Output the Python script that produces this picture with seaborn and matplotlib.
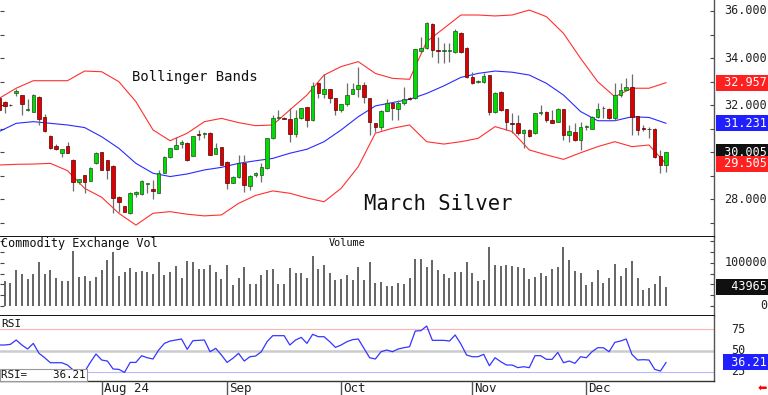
import numpy as np
import matplotlib
matplotlib.use('Agg')
import matplotlib.pyplot as plt
import matplotlib.transforms as mtransforms
import seaborn as sns

# daily bars (bar 0 sits half off the left edge)
opens = [32.32, 32.15, 32.00, 32.50, 32.43, 31.78, 31.73, 32.36, 31.48, 30.71,
         30.28, 29.96, 30.28, 29.67, 28.75, 29.02, 28.80, 29.53, 30.00, 29.67,
         29.43, 28.12, 27.72, 27.41, 28.22, 28.22, 28.64, 28.43, 28.29, 29.14,
         29.78, 30.14, 30.35, 30.41, 29.86, 30.78, 30.77, 30.83, 29.93, 30.21,
         29.60, 28.71, 28.94, 29.53, 28.58, 29.04, 29.04, 29.35, 30.59, 31.46,
         31.46, 31.40, 30.76, 31.44, 31.91, 31.37, 32.93, 32.48, 32.67, 32.29,
         31.80, 32.05, 32.48, 32.67, 32.86, 32.29, 31.23, 31.09, 31.77, 32.08,
         31.83, 32.08, 32.30, 32.29, 34.30, 34.41, 35.45, 34.33, 34.30, 34.30,
         34.27, 35.08, 34.41, 33.21, 32.98, 33.00, 33.28, 31.73, 32.57, 31.83,
         31.22, 31.23, 30.81, 30.95, 30.81, 31.65, 31.72, 31.37, 31.30, 31.83,
         30.73, 30.88, 30.52, 31.06, 30.99, 31.51, 31.87, 31.83, 31.44, 32.43,
         32.65, 32.79, 31.54, 31.02, 30.99, 31.00, 29.84, 29.46]
highs = [32.36, 32.17, 32.03, 32.67, 32.45, 32.25, 32.46, 32.38, 31.63, 30.73,
         30.35, 30.16, 30.42, 29.70, 28.88, 29.05, 29.36, 30.00, 30.03, 29.69,
         29.45, 28.13, 27.74, 28.30, 28.34, 28.82, 28.71, 28.82, 29.25, 29.83,
         30.19, 30.66, 30.52, 30.43, 30.71, 30.95, 30.87, 30.85, 30.38, 30.23,
         29.62, 29.00, 29.88, 29.88, 29.02, 29.18, 29.53, 30.62, 31.60, 31.80,
         31.50, 31.87, 31.80, 31.90, 31.93, 33.00, 33.00, 33.32, 32.69, 32.31,
         32.07, 32.93, 32.93, 33.64, 33.00, 32.31, 31.25, 31.79, 32.25, 32.15,
         32.22, 32.76, 32.36, 34.40, 34.91, 35.55, 35.47, 34.91, 34.63, 34.63,
         35.22, 35.10, 34.45, 33.42, 33.05, 33.35, 33.30, 32.55, 32.60, 31.85,
         31.65, 31.58, 30.97, 30.97, 31.67, 32.00, 31.75, 31.80, 31.87, 31.85,
         31.15, 31.23, 31.30, 31.15, 31.55, 32.08, 31.97, 31.87, 32.93, 32.93,
         33.14, 33.32, 31.56, 31.17, 31.06, 31.02, 30.10, 30.01]
lows = [31.75, 31.68, 31.96, 32.40, 31.58, 31.76, 31.72, 31.16, 30.88, 30.15,
        30.10, 29.81, 29.96, 28.37, 28.64, 28.26, 28.78, 29.50, 29.23, 28.87,
        27.41, 27.48, 27.46, 27.40, 28.12, 28.20, 28.29, 28.00, 28.28, 29.12,
        29.76, 30.12, 30.17, 29.65, 29.84, 30.52, 30.62, 29.87, 29.91, 29.44,
        28.43, 28.69, 28.92, 28.33, 28.40, 28.96, 28.75, 29.30, 30.57, 31.37,
        31.40, 30.45, 30.66, 31.40, 31.09, 31.35, 32.29, 32.29, 32.08, 31.58,
        31.73, 31.95, 32.46, 32.36, 32.08, 30.73, 30.88, 30.95, 31.75, 31.37,
        31.37, 32.00, 32.22, 32.25, 34.20, 34.38, 34.06, 33.78, 33.78, 33.85,
        34.20, 34.20, 33.15, 32.91, 32.95, 32.93, 31.60, 31.65, 31.75, 30.95,
        30.80, 30.73, 30.17, 30.65, 30.79, 31.58, 31.30, 31.23, 31.28, 30.52,
        30.45, 30.50, 30.10, 30.95, 30.97, 31.44, 31.45, 31.40, 31.37, 32.36,
        32.63, 30.73, 30.73, 30.92, 30.59, 29.75, 29.11, 29.18]
closes = [31.80, 31.97, 31.99, 32.60, 32.05, 31.82, 32.43, 31.40, 30.90, 30.17,
          30.13, 30.14, 29.98, 28.75, 28.87, 28.75, 29.33, 29.98, 29.25, 29.25,
          28.04, 27.90, 27.48, 28.26, 28.30, 28.80, 28.68, 28.37, 29.11, 29.81,
          30.17, 30.31, 30.45, 29.67, 30.69, 30.74, 30.82, 29.89, 30.20, 29.46,
          28.71, 28.97, 29.53, 28.61, 29.00, 29.11, 29.39, 30.59, 31.44, 31.50,
          31.42, 30.76, 31.44, 31.87, 31.37, 32.82, 32.50, 32.67, 32.29, 31.80,
          32.05, 32.43, 32.67, 32.86, 32.33, 31.30, 31.09, 31.77, 32.11, 31.87,
          32.11, 32.25, 32.27, 34.37, 34.44, 35.50, 34.34, 34.29, 34.32, 34.33,
          35.16, 34.27, 33.21, 32.93, 33.02, 33.24, 31.73, 32.53, 31.80, 31.30,
          31.20, 30.81, 30.95, 30.69, 31.65, 31.69, 31.37, 31.26, 31.83, 30.73,
          30.90, 30.52, 31.09, 31.11, 31.51, 31.83, 31.90, 31.44, 32.43, 32.65,
          32.76, 31.51, 30.95, 30.99, 30.97, 29.79, 29.46, 30.005]
volume = [45000, 58500, 52400, 83200, 73900, 62400, 73200, 100900, 73900, 83200,
          65500, 58500, 58500, 127000, 66200, 68500, 58500, 66200, 83900, 106300,
          125500, 68500, 79300, 87000, 79300, 81600, 77800, 74700, 100900, 71600,
          79300, 93200, 65500, 103200, 102400, 85500, 85500, 95500, 77800, 62400,
          93900, 48500, 65500, 89300, 50000, 50000, 72400, 83900, 86200, 51600,
          50000, 87000, 77000, 75500, 63900, 116300, 86200, 95500, 75500, 59300,
          63100, 70800, 59300, 89300, 59300, 100900, 53900, 56200, 47000, 46200,
          53900, 51600, 63900, 108600, 108600, 90100, 105500, 83900, 73200, 65500,
          79300, 78500, 100900, 76200, 58500, 60100, 135500, 93900, 92400, 95500,
          93200, 90900, 87000, 62400, 66200, 77000, 69300, 86200, 90100, 135500,
          106300, 81600, 77000, 48500, 56200, 83900, 53100, 64700, 97800, 69300,
          88600, 104000, 65500, 36200, 42400, 50800, 69300, 43965]
rsi = [56.7, 56.7, 57.5, 62.6, 56.7, 52.0, 58.6, 46.9, 41.7, 35.8,
       35.8, 35.8, 33.1, 27.2, 24.4, 25.2, 36.2, 46.1, 39.0, 37.8,
       28.4, 28.0, 24.4, 36.2, 36.2, 44.1, 41.7, 40.2, 50.8, 58.6,
       61.4, 62.6, 63.8, 51.6, 61.8, 62.2, 62.6, 48.8, 52.8, 44.9,
       36.2, 41.0, 46.9, 37.8, 42.9, 43.7, 48.8, 60.6, 67.7, 67.7,
       67.7, 56.7, 62.6, 65.7, 58.6, 69.3, 66.5, 66.5, 60.6, 53.9,
       56.7, 60.6, 63.0, 63.8, 52.8, 41.7, 40.2, 48.8, 50.8, 48.8,
       52.0, 53.5, 54.7, 73.2, 73.6, 79.1, 62.2, 62.2, 62.2, 61.4,
       68.5, 57.9, 44.9, 42.9, 42.9, 45.7, 32.3, 41.7, 37.0, 33.1,
       33.1, 30.0, 31.1, 30.0, 44.1, 44.1, 39.8, 39.8, 48.0, 35.8,
       37.8, 35.1, 42.9, 41.7, 48.8, 53.5, 53.5, 48.8, 59.8, 61.4,
       63.8, 45.7, 39.0, 39.4, 39.0, 28.0, 26.0, 36.21]

# bollinger bands read every 3rd bar
band_x = list(range(0, 118, 3))
bb_upper = [32.29, 32.72, 33.04, 33.04, 33.04, 33.45, 33.42, 33.00, 32.15, 30.95,
            30.49, 30.81, 31.30, 31.44, 31.26, 31.13, 31.16, 31.80, 32.43, 33.28,
            33.64, 33.85, 33.35, 33.14, 33.10, 34.70, 35.26, 35.83, 35.83, 35.79,
            35.83, 36.04, 35.76, 35.05, 33.99, 33.00, 32.36, 32.72, 32.72, 32.957]
bb_mid = [30.88, 31.23, 31.30, 31.23, 31.16, 31.05, 30.66, 30.17, 29.53, 29.11,
          28.97, 29.08, 29.25, 29.36, 29.53, 29.64, 29.74, 29.96, 30.13, 30.45,
          30.95, 31.51, 31.97, 32.11, 32.25, 32.50, 32.82, 33.18, 33.35, 33.45,
          33.40, 33.28, 32.93, 32.43, 31.73, 31.34, 31.34, 31.51, 31.48, 31.231]
bb_lower = [29.46, 29.49, 29.50, 29.53, 29.22, 28.47, 28.09, 27.41, 26.91, 27.41,
            27.48, 27.37, 27.30, 27.34, 27.83, 28.17, 28.36, 28.26, 28.06, 27.90,
            28.47, 29.39, 30.81, 31.02, 31.16, 30.45, 30.35, 30.45, 30.59, 31.09,
            30.88, 30.10, 29.89, 29.70, 29.98, 30.24, 30.45, 30.24, 30.31, 29.505]

month_pos = [18, 40, 60, 83, 103]
month_labels = ['Aug 24', 'Sep', 'Oct', 'Nov', 'Dec']
price_labels = [36, 34, 32, 28]   # 30.000 sits under the last-price box
vol_labels = [100000, 50000, 0]
rsi_labels = [75, 50, 25]

sns.set_theme(style='white')
plt.rcParams['font.family'] = ['DejaVu Sans Mono', 'DejaVu Sans']

W, H = 768, 395
fig = plt.figure(figsize=(W / 100, H / 100), dpi=100, facecolor='white')
AW = 714 / W


def panel(top, bottom):
    return fig.add_axes([0, 1 - bottom / H, AW, (bottom - top) / H])


ax_p = panel(0, 237)
ax_v = panel(237, 316)
ax_r = panel(316, 381)
ax_d = panel(381, 395)

x = np.arange(len(closes))
o = np.array(opens)
c = np.array(closes)
xlim = (0.16, 125.4)

# candles
ax_p.vlines(x, lows, highs, color='#6e6e6e', lw=0.9, zorder=2)
up = c >= o
body = np.maximum(np.abs(c - o), 0.03)
base = np.minimum(o, c)
ax_p.bar(x[up], body[up], bottom=base[up], width=0.62, color='#00dd00',
         edgecolor='#205020', linewidth=0.5, zorder=3)
ax_p.bar(x[~up], body[~up], bottom=base[~up], width=0.62, color='#dd0000',
         edgecolor='#550000', linewidth=0.5, zorder=3)

sns.lineplot(x=band_x, y=bb_upper, ax=ax_p, color='#ff3030', lw=0.8, zorder=1)
sns.lineplot(x=band_x, y=bb_lower, ax=ax_p, color='#ff3030', lw=0.8, zorder=1)
sns.lineplot(x=band_x, y=bb_mid, ax=ax_p, color='#2a2aff', lw=0.8, zorder=1)
ax_p.set_ylim(26.403, 36.467)
ax_p.set_yticks(range(27, 37))

# volume
ax_v.vlines(x, 0, volume, color='#3a3a3a', lw=1.1)
ax_v.set_ylim(-23095, 159353)
ax_v.set_yticks(range(0, 150001, 25000))

# rsi
ax_r.axhline(75, color='#ffb4b4', lw=0.8)
ax_r.axhline(50, color='#cccccc', lw=1.8)
ax_r.axhline(25, color='#b8b8ff', lw=0.8)
sns.lineplot(x=x, y=rsi, ax=ax_r, color='#3535ff', lw=0.9)
ax_r.set_ylim(14.27, 90.9)
ax_r.set_yticks([])

for ax in (ax_p, ax_v, ax_r, ax_d):
    ax.set_xlim(*xlim)
    ax.set_xticks([])
    ax.set_xlabel('')
    ax.set_ylabel('')
    ax.set_facecolor('white')
    for s in ('top', 'left'):
        ax.spines[s].set_visible(False)
    ax.spines['right'].set_color('#555555')
    ax.spines['right'].set_linewidth(1.0)
    ax.spines['bottom'].set_color('#111111')
    ax.spines['bottom'].set_linewidth(1.4)
    ax.tick_params(axis='y', which='both', left=True, right=True, direction='in',
                   length=3, width=0.8, color='#444444', labelleft=False, labelright=False)
ax_r.spines['bottom'].set_linewidth(1.0)
ax_r.spines['bottom'].set_color('#333333')

# date strip
ax_d.axis('off')
ax_d.set_ylim(0, 1)
ax_d.vlines(month_pos, 0, 1, color='#555555', lw=1.0)
for pos, lab in zip(month_pos, month_labels):
    ax_d.text(pos + 0.4, 0.45, lab, fontsize=9, color='#222222', va='center', ha='left')

# texts inside panels
ax_p.text(132 / 714, 1 - 77.5 / 237, 'Bollinger Bands', transform=ax_p.transAxes,
          fontsize=10, color='#111111', va='center', ha='left')
ax_p.text(364 / 714, 1 - 204.5 / 237, 'March Silver', transform=ax_p.transAxes,
          fontsize=14.8, color='#111111', va='center', ha='left')
ax_v.text(1 / 714, 1 - 7 / 79, 'Commodity Exchange Vol', transform=ax_v.transAxes,
          fontsize=8.5, color='#111111', va='center', ha='left')
ax_v.text(347 / 714, 1 - 6 / 79, 'Volume', transform=ax_v.transAxes,
          fontsize=7.4, color='#111111', va='center', ha='center')
ax_r.text(1 / 714, 1 - 8 / 65, 'RSI', transform=ax_r.transAxes,
          fontsize=8, color='#111111', va='center', ha='left')
ax_r.text(1 / 714, 1 - 59 / 65, 'RSI=    %.2f' % rsi[-1], transform=ax_r.transAxes,
          fontsize=7.8, color='#111111', va='center', ha='left', zorder=5,
          bbox=dict(boxstyle='square,pad=0.12', fc='white', ec='#999999', lw=0.8))

# right-hand scale labels
XR = 767 / W


def rlabel(ax, y, s, box=None, xr=XR, z=3):
    tr = mtransforms.blended_transform_factory(fig.transFigure, ax.transData)
    kw = dict(transform=tr, fontsize=8.5, va='center', ha='right', zorder=z)
    if box is None:
        ax.text(xr, y, s, color='#222222', **kw)
    else:
        ax.text(xr, y, s, color='white',
                bbox=dict(boxstyle='square,pad=0.12', fc=box, ec='none'), **kw)


for v in price_labels:
    rlabel(ax_p, v, '%.3f' % v)
rlabel(ax_p, bb_upper[-1], ' %.3f' % bb_upper[-1], box='#ff2020', z=4)
rlabel(ax_p, bb_mid[-1], ' %.3f' % bb_mid[-1], box='#2020ff', z=4)
rlabel(ax_p, closes[-1], ' %.3f' % closes[-1], box='#101010', z=4)
rlabel(ax_p, bb_lower[-1], ' %.3f' % bb_lower[-1], box='#ff2020', z=4)

for v in vol_labels:
    rlabel(ax_v, v, '%d' % v)
rlabel(ax_v, volume[-1], '%7d' % volume[-1], box='#101010', z=4)

for v in rsi_labels:
    rlabel(ax_r, v, '%d' % v, xr=745 / W)
rlabel(ax_r, rsi[-1], ' %.2f' % rsi[-1], box='#2020ff', z=4)

fig.text(762 / W, 1 - 389 / H, '\u2b05', color='#ff0000', fontsize=8,
         ha='center', va='center', family='DejaVu Sans')

fig.savefig('out.png', dpi=100, facecolor='white')
